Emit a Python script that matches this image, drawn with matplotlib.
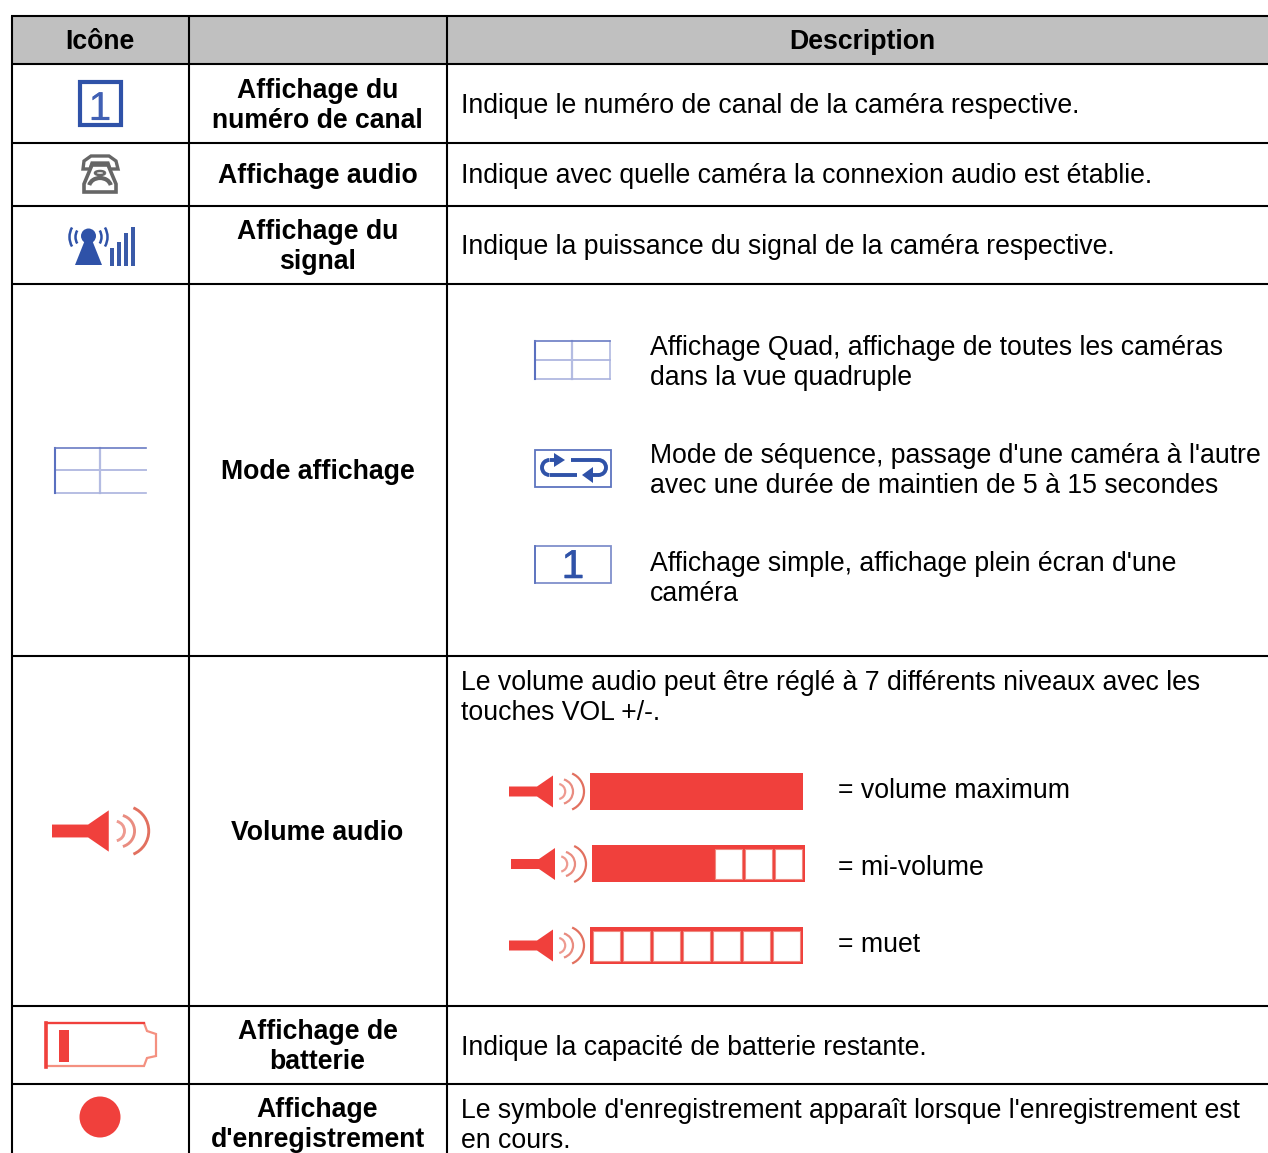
"""French icon table from a camera manual, redrawn with matplotlib in pixel coordinates."""

import matplotlib
matplotlib.use("Agg")
import matplotlib.pyplot as plt
import matplotlib.patheffects as pe
from matplotlib.patches import Rectangle, Polygon, Arc, Circle

plt.rcParams["font.family"] = ["Liberation Sans", "DejaVu Sans"]

header_labels = ["Icône", "Description"]
row_names = [
    "Affichage du\nnuméro de canal",
    "Affichage audio",
    "Affichage du\nsignal",
    "Mode affichage",
    "Volume audio",
    "Affichage de\nbatterie",
    "Affichage\nd'enregistrement",
]
row_desc = [
    "Indique le numéro de canal de la caméra respective.",
    "Indique avec quelle caméra la connexion audio est établie.",
    "Indique la puissance du signal de la caméra respective.",
    "",
    "",
    "Indique la capacité de batterie restante.",
    "Le symbole d'enregistrement apparaît lorsque l'enregistrement est\nen cours.",
]
mode_text = [
    "Affichage Quad, affichage de toutes les caméras\ndans la vue quadruple",
    "Mode de séquence, passage d'une caméra à l'autre\navec une durée de maintien de 5 à 15 secondes",
    "Affichage simple, affichage plein écran d'une\ncaméra",
]
volume_intro = "Le volume audio peut être réglé à 7 différents niveaux avec les\ntouches VOL +/-."
volume_labels = ["= volume maximum", "= mi-volume", "= muet"]
volume_empty_cells = [0, 3, 7]

col_edges = [12, 189, 447]
row_edges = [16, 64, 143, 206, 284, 656, 1006, 1084]
name_y = [104, 174, 245, 470, 831, 1045, 1123]
desc_y = [104, 174, 245, 0, 0, 1046, 1124]

BLUE = "#2f52a8"
RED = "#f0403c"
GRAY = "#666666"
FS = 19.2
LS = 1.21

fig = plt.figure(figsize=(12.68, 11.53), dpi=100)
ax = fig.add_axes([0, 0, 1, 1])
ax.set_xlim(0, 1268)
ax.set_ylim(1153, 0)
ax.axis("off")


def put_text(x, y, txt, **kw):
    # va=center sits about 2px high against the reference
    ax.text(x, y + 2, txt, va="center", fontsize=FS, linespacing=LS, **kw)


def grid_icon(x, y, w, h, right=True):
    ax.plot([x + w / 2, x + w / 2], [y, y + h], color="#b4bce2", lw=1.6)
    ax.plot([x, x + w], [y + h / 2, y + h / 2], color="#b4bce2", lw=1.4)
    ax.plot([x, x + w], [y + h, y + h], color="#aab3de", lw=1.2)
    if right:
        ax.plot([x + w, x + w], [y, y + h], color="#aab3de", lw=1.1)
    ax.plot([x, x], [y, y + h], color="#5a70c0", lw=1.5)
    ax.plot([x, x + w], [y, y], color="#6a7cc4", lw=1.2)


def speaker(x, y, s=1.0):
    # x, y = left end of the handle centre line
    ax.add_patch(Polygon([(x, y - 5 * s), (x + 28 * s, y - 5 * s), (x + 44 * s, y - 16 * s),
                          (x + 44 * s, y + 16 * s), (x + 28 * s, y + 5 * s), (x, y + 5 * s)],
                         fc=RED, ec="none"))
    arcs = [(48.5, 7.7, 77, "#ee9a90"), (51.5, 12.5, 74, "#e98c80"), (55.5, 19.5, 67, "#e2705f")]
    for off, r, ang, col in arcs:
        ax.add_patch(Arc((x + off * s, y), 2 * r * s, 2 * r * s, theta1=-ang, theta2=ang,
                         color=col, lw=1.6 * s))


def volume_bar(x, y, w, h, empty):
    ax.add_patch(Rectangle((x, y), w, h, fc=RED, ec="none"))
    cw = (w - 3) / 7
    for i in range(empty):
        ax.add_patch(Rectangle((x + w - (i + 1) * cw, y + 3.5), cw - 3, h - 7,
                               fc="white", ec="#ee8a80", lw=0.8))


def digit_one(x, baseline, color, stroke):
    ax.text(x, baseline, "1", ha="center", va="baseline", fontsize=29, color=color,
            path_effects=[pe.withStroke(linewidth=stroke, foreground=color)])


# header background and cell lines
ax.add_patch(Rectangle((col_edges[0], row_edges[0]), 1268 - col_edges[0], row_edges[1] - row_edges[0],
                       fc="#c0c0c0", ec="none"))
for y in row_edges:
    ax.plot([col_edges[0] - 1, 1268], [y, y], color="black", lw=1.5, solid_capstyle="butt")
for x in col_edges:
    ax.plot([x, x], [row_edges[0], 1153], color="black", lw=1.5, solid_capstyle="butt")

put_text(100, 40, header_labels[0], ha="center", fontweight="bold")
put_text(862, 40, header_labels[1], ha="center", fontweight="bold")

for name, y in zip(row_names, name_y):
    put_text(317.5, y, name, ha="center", fontweight="bold")
for desc, y in zip(row_desc, desc_y):
    if desc:
        put_text(461, y, desc, ha="left")

# channel icon
ax.add_patch(Rectangle((80, 82), 41, 43, fc="white", ec=BLUE, lw=3))
digit_one(100, 120, "#4060b4", 0.1)

# phone icon
ax.add_patch(Polygon([(83, 169), (84, 161), (91, 156), (109, 156), (116, 161), (118, 169), (110, 169),
                      (108, 163), (92, 163), (90, 169)], fc="white", ec=GRAY, lw=2.4))
ax.add_patch(Polygon([(92, 165), (108, 165), (116, 184), (116, 192), (84, 192), (84, 184)],
                     fc="white", ec=GRAY, lw=2.6))
ax.add_patch(Arc((100, 187), 22, 18, theta1=190, theta2=350, color=GRAY, lw=3))
ax.add_patch(Arc((100, 173), 10, 4, theta1=0, theta2=360, color=GRAY, lw=1.8))

# signal icon
ax.add_patch(Circle((88.5, 236), 7.5, fc=BLUE, ec="none"))
ax.add_patch(Polygon([(85, 240), (92, 240), (102, 265), (75, 265)], fc=BLUE, ec="none"))
for r in [13, 19]:
    ax.add_patch(Arc((88.5, 237), 2 * r, 2 * r, theta1=150, theta2=210, color=BLUE, lw=1.8))
    ax.add_patch(Arc((88.5, 237), 2 * r, 2 * r, theta1=-30, theta2=30, color=BLUE, lw=1.8))
for bx, top in zip([112, 119, 126, 133], [248, 242, 233, 227]):
    ax.add_patch(Rectangle((bx - 2.2, top), 4.4, 266 - top, fc="#3a5aa8", ec="none"))

# mode row
grid_icon(54.5, 447.5, 91.5, 45, right=False)
grid_icon(534.5, 340.5, 75, 38)
for txt, y in zip(mode_text, [361, 469, 577]):
    put_text(650, y, txt, ha="left")

ax.add_patch(Rectangle((534.5, 449.5), 76, 37, fc="white", ec="#5d74bf", lw=1.3))
ax.add_patch(Arc((549.5, 467.5), 15, 15, theta1=90, theta2=270, color=BLUE, lw=2.8))
ax.plot([549.5, 558], [460, 460], color=BLUE, lw=2.8, solid_capstyle="butt")
ax.plot([549.5, 577], [475, 475], color=BLUE, lw=2.8, solid_capstyle="butt")
ax.add_patch(Polygon([(554, 453), (565, 460), (554, 467)], fc=BLUE, ec="none"))
ax.add_patch(Arc((598.5, 467.5), 15, 15, theta1=-90, theta2=90, color=BLUE, lw=2.8))
ax.plot([571, 598.5], [460, 460], color=BLUE, lw=2.8, solid_capstyle="butt")
ax.plot([590, 598.5], [475, 475], color=BLUE, lw=2.8, solid_capstyle="butt")
ax.add_patch(Polygon([(593, 467), (582, 475), (593, 483)], fc=BLUE, ec="none"))

ax.add_patch(Rectangle((534.5, 546), 76, 36.5, fc="white", ec="#8090cc", lw=1.3))
ax.plot([534.5, 534.5], [546, 582.5], color="#5d74bf", lw=1.3)
digit_one(573, 578, BLUE, 0.4)

# volume row
put_text(461, 696, volume_intro, ha="left")
speaker(52, 831, 1.29)
speaker(509, 791.5, 1.0)
speaker(511, 864, 1.0)
speaker(509, 945.5, 1.0)
bar_x = [590, 592, 590]
bar_y = [773, 845, 927]
for bx, by, empty in zip(bar_x, bar_y, volume_empty_cells):
    volume_bar(bx, by, 213, 37, empty)
for txt, y in zip(volume_labels, [789, 866, 943]):
    put_text(838, y, txt, ha="left")

# battery icon
ax.add_patch(Polygon([(46, 1023), (144, 1023), (147, 1031), (156, 1034), (156, 1056), (147, 1058),
                      (144, 1066), (46, 1066)], fc="white", ec="#f49080", lw=1.6))
ax.plot([46, 144], [1023, 1023], color=RED, lw=1.6)
ax.plot([46, 46], [1023, 1067], color=RED, lw=2.6)
ax.add_patch(Rectangle((59, 1030), 10, 32, fc=RED, ec="none"))

# record icon
ax.add_patch(Circle((100, 1117), 20.5, fc=RED, ec="none"))

fig.savefig("out.png", dpi=100)
